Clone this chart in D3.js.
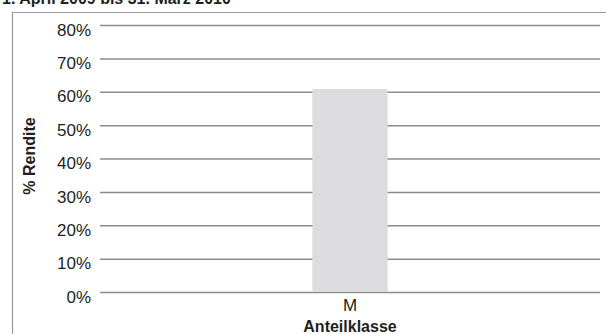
<!DOCTYPE html>
<html lang="de">
<head>
  <meta charset="UTF-8">
  <title>Rendite Anteilklasse M</title>
  <script src="https://d3js.org/d3.v7.min.js"></script>
  <style>
    body { margin: 0; background: #fff; font-family: "Liberation Sans", Arial, sans-serif; }
    svg { display: block; }
    .tick text { font-size: 17px; fill: #231f20; }
  </style>
</head>
<body>
  <svg width="606" height="334"></svg>

  <script>
    const title = "1. April 2009 bis 31. März 2010";
    const categories = ["M"];
    const values = [60.8];
    const yTicks = [0, 10, 20, 30, 40, 50, 60, 70, 80];
    const yLabel = "% Rendite";
    const xLabel = "Anteilklasse";

    const svg = d3.select("svg");
    const margin = {top: 25, right: 6, bottom: 42, left: 100};
    const width = +svg.attr("width") - margin.left - margin.right;
    const height = +svg.attr("height") - margin.top - margin.bottom;

    // frame (only top and left edges visible)
    svg.append("path")
        .attr("d", "M12.5,334 V12.5 H606")
        .attr("fill", "none")
        .attr("stroke", "#9a9a9a")
        .attr("stroke-width", 1.2);

    svg.append("text")
        .attr("x", 2)
        .attr("y", 4)
        .attr("font-size", 16)
        .attr("font-weight", "bold")
        .attr("fill", "#231f20")
        .text(title);

    const chart = svg.append("g")
        .attr("transform", `translate(${margin.left},${margin.top})`);

    const x = d3.scaleBand()
        .domain(categories)
        .range([0, width])
        .paddingInner(0)
        .paddingOuter(2.82);

    const y = d3.scaleLinear()
        .domain([0, 80])
        .range([height, 0]);

    // gridlines + y labels
    const yAxis = chart.append("g")
        .call(d3.axisLeft(y)
          .tickValues(yTicks)
          .tickSize(-width)
          .tickPadding(9)
          .tickFormat(d => d + "%"));
    yAxis.select(".domain").remove();
    yAxis.selectAll(".tick line")
        .attr("stroke", "#8c8c8c")
        .attr("stroke-width", 1.5);
    yAxis.selectAll(".tick text").attr("dy", "0.6em");

    chart.selectAll(".bar")
      .data(values)
      .enter().append("rect")
        .attr("class", "bar")
        .attr("x", (d, i) => x(categories[i]))
        .attr("y", d => y(d))
        .attr("width", x.bandwidth())
        .attr("height", d => height - y(d))
        .attr("fill", "#dcdcde");

    const xAxis = chart.append("g")
        .attr("transform", `translate(0,${height})`)
        .call(d3.axisBottom(x).tickSize(0).tickPadding(7));
    xAxis.select(".domain").remove();
    xAxis.selectAll(".tick text").attr("dy", "0.71em");

    svg.append("text")
        .attr("x", margin.left + width / 2)
        .attr("y", 332)
        .attr("text-anchor", "middle")
        .attr("font-size", 16)
        .attr("font-weight", "bold")
        .attr("fill", "#231f20")
        .text(xLabel);

    svg.append("text")
        .attr("transform", `translate(35,156) rotate(-90)`)
        .attr("text-anchor", "middle")
        .attr("font-size", 16)
        .attr("font-weight", "bold")
        .attr("fill", "#231f20")
        .text(yLabel);
  </script>
</body>
</html>
